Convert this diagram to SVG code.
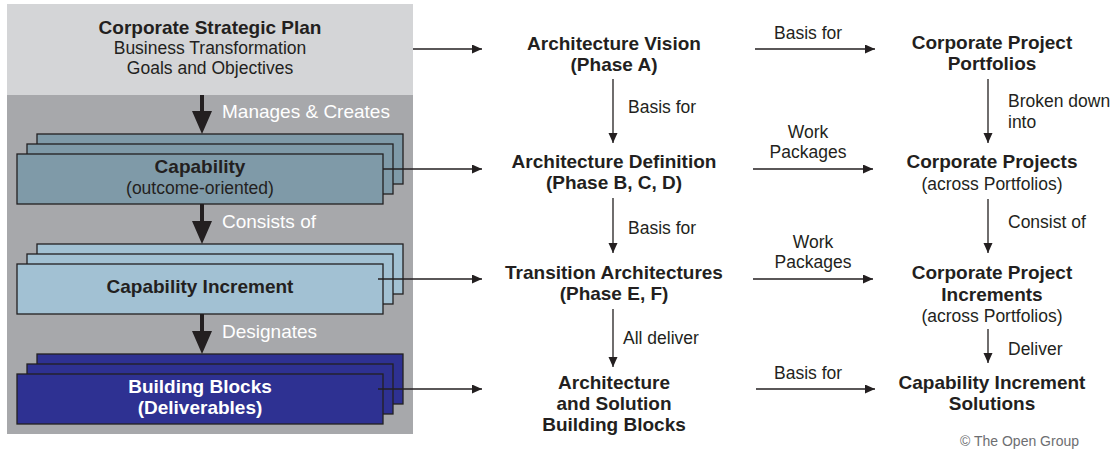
<svg xmlns="http://www.w3.org/2000/svg" width="1117" height="450" viewBox="0 0 1117 450">
<defs>
<style>
text{font-family:"Liberation Sans",Arial,sans-serif;fill:#231f20}
.b{font-weight:bold;font-size:19px}
.r{font-size:17.5px}
.w{fill:#ffffff;font-size:19px}
.wb{fill:#ffffff;font-weight:bold;font-size:19px}
.m{text-anchor:middle}
.ln{stroke:#231f20;stroke-width:1.3;fill:none}
.cap{fill:#7f9aa8;stroke:#231f20;stroke-width:1.3}
.inc{fill:#a2c1d3;stroke:#231f20;stroke-width:1.3}
.bb{fill:#2e3192;stroke:#231f20;stroke-width:1.3}
.thick{fill:#231f20}
</style>
<marker id="ah" markerUnits="userSpaceOnUse" markerWidth="11" markerHeight="10" refX="10" refY="4.5" orient="auto">
<path d="M0,0 L10,4.5 L0,9 z" fill="#231f20"/>
</marker>
</defs>
<rect width="1117" height="450" fill="#ffffff"/>
<g id="backgrounds">
<rect x="7" y="4" width="406" height="91" fill="#d4d5d7"/>
<rect x="7" y="95" width="406" height="339" fill="#a7a8ab"/>
</g>
<g id="strategic-plan">
<text class="b m" x="210" y="34">Corporate Strategic Plan</text>
<text class="r m" x="210" y="54">Business Transformation</text>
<text class="r m" x="210" y="74">Goals and Objectives</text>
</g>
<g id="capability">
<rect class="cap" x="37" y="134" width="366" height="50"/>
<rect class="cap" x="27" y="144" width="366" height="50"/>
<rect class="cap" x="17" y="154" width="366" height="50"/>
<text class="b m" x="200" y="173">Capability</text>
<text class="r m" x="200" y="194">(outcome-oriented)</text>
</g>
<g id="capability-increment">
<rect class="inc" x="37" y="244" width="366" height="50"/>
<rect class="inc" x="27" y="254" width="366" height="50"/>
<rect class="inc" x="17" y="264" width="366" height="50"/>
<text class="b m" x="200" y="293">Capability Increment</text>
</g>
<g id="building-blocks">
<rect class="bb" x="37" y="354" width="366" height="50"/>
<rect class="bb" x="27" y="364" width="366" height="50"/>
<rect class="bb" x="17" y="374" width="366" height="50"/>
<text class="wb m" x="200" y="393">Building Blocks</text>
<text class="wb m" x="200" y="414">(Deliverables)</text>
</g>
<g id="architecture-vision">
<text class="b m" x="614" y="50">Architecture Vision</text>
<text class="b m" x="614" y="71">(Phase A)</text>
</g>
<g id="architecture-definition">
<text class="b m" x="614" y="168">Architecture Definition</text>
<text class="b m" x="614" y="189">(Phase B, C, D)</text>
</g>
<g id="transition-architectures">
<text class="b m" x="614" y="279">Transition Architectures</text>
<text class="b m" x="614" y="300">(Phase E, F)</text>
</g>
<g id="solution-building-blocks">
<text class="b m" x="614" y="389">Architecture</text>
<text class="b m" x="614" y="410">and Solution</text>
<text class="b m" x="614" y="431">Building Blocks</text>
</g>
<g id="project-portfolios">
<text class="b m" x="992" y="49">Corporate Project</text>
<text class="b m" x="992" y="70">Portfolios</text>
</g>
<g id="corporate-projects">
<text class="b m" x="992" y="168">Corporate Projects</text>
<text class="r m" x="992" y="190">(across Portfolios)</text>
</g>
<g id="project-increments">
<text class="b m" x="992" y="279">Corporate Project</text>
<text class="b m" x="992" y="301">Increments</text>
<text class="r m" x="992" y="322">(across Portfolios)</text>
</g>
<g id="increment-solutions">
<text class="b m" x="992" y="389">Capability Increment</text>
<text class="b m" x="992" y="410">Solutions</text>
</g>
<g id="connectors">
<path class="thick" d="M200,95 H204 V111 H212 L202,134 L192,111 H200 Z"/>
<path class="thick" d="M200,204 H204 V221 H212 L202,244 L192,221 H200 Z"/>
<path class="thick" d="M200,314 H204 V331 H212 L202,354 L192,331 H200 Z"/>
<text class="w" x="222" y="118">Manages &amp; Creates</text>
<text class="w" x="222" y="228">Consists of</text>
<text class="w" x="222" y="338">Designates</text>
<line class="ln" x1="413" y1="49" x2="482" y2="49" marker-end="url(#ah)"/>
<line class="ln" x1="383" y1="169" x2="482" y2="169" marker-end="url(#ah)"/>
<line class="ln" x1="378" y1="279" x2="482" y2="279" marker-end="url(#ah)"/>
<line class="ln" x1="378" y1="389" x2="482" y2="389" marker-end="url(#ah)"/>
<line class="ln" x1="613" y1="79" x2="613" y2="143" marker-end="url(#ah)"/>
<text class="r" x="628" y="113">Basis for</text>
<line class="ln" x1="613" y1="198" x2="613" y2="253" marker-end="url(#ah)"/>
<text class="r" x="628" y="234">Basis for</text>
<line class="ln" x1="613" y1="309" x2="613" y2="367" marker-end="url(#ah)"/>
<text class="r" x="623" y="344">All deliver</text>
<line class="ln" x1="755" y1="49" x2="875" y2="49" marker-end="url(#ah)"/>
<text class="r" x="774" y="39">Basis for</text>
<line class="ln" x1="753" y1="169" x2="873" y2="169" marker-end="url(#ah)"/>
<text class="r m" x="808" y="138">Work</text>
<text class="r m" x="808" y="158">Packages</text>
<line class="ln" x1="753" y1="279" x2="873" y2="279" marker-end="url(#ah)"/>
<text class="r m" x="813" y="248">Work</text>
<text class="r m" x="813" y="268">Packages</text>
<line class="ln" x1="756" y1="389" x2="875" y2="389" marker-end="url(#ah)"/>
<text class="r" x="774" y="379">Basis for</text>
<line class="ln" x1="988" y1="79" x2="988" y2="143" marker-end="url(#ah)"/>
<text class="r" x="1008" y="107">Broken down</text>
<text class="r" x="1008" y="128">into</text>
<line class="ln" x1="988" y1="199" x2="988" y2="253" marker-end="url(#ah)"/>
<text class="r" x="1008" y="228">Consist of</text>
<line class="ln" x1="988" y1="329" x2="988" y2="363" marker-end="url(#ah)"/>
<text class="r" x="1008" y="355">Deliver</text>
</g>
<text x="960" y="446" font-size="14" fill="#6d6e71" style="fill:#6d6e71">© The Open Group</text>
</svg>
